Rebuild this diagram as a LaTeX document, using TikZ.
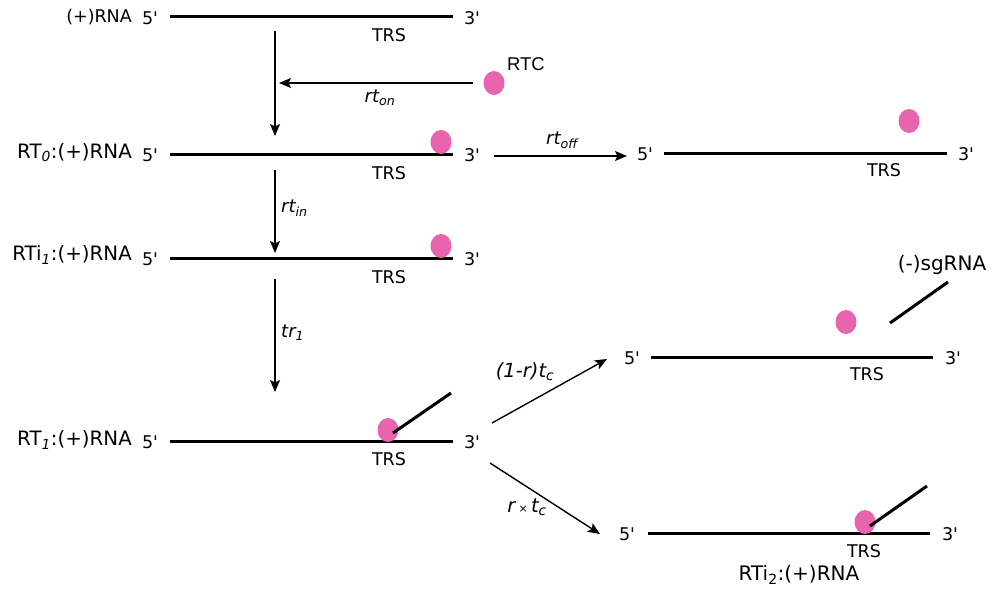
\documentclass[tikz,border=0pt]{standalone}
\usepackage{fontspec}
\setmainfont{DejaVu Sans}
\newfontfamily\rtcfont{Liberation Sans}
\usetikzlibrary{arrows.meta,shapes.geometric}
\definecolor{rtcpink}{RGB}{232,100,174}
\newcommand{\sbi}[1]{\textsubscript{\itshape #1}}
\newcommand{\pr}{\textquotesingle}
\newcommand{\fs}[1]{\fontsize{#1}{#1}\selectfont}
\begin{document}
\begin{tikzpicture}[x=1pt,y=-1pt,
  every node/.style={font=\fs{17.5}, inner sep=0pt},
  big/.style={font=\fs{19.8}},
  bigger/.style={font=\fs{20}},
  strand/.style={line width=3pt},
  react/.style={line width=1.4pt,-{Stealth[length=12pt,width=10pt,inset=2.5pt]}},
  dot/.style={ellipse, fill=rtcpink, minimum width=21pt, minimum height=24pt, inner sep=0pt},
  rate/.style={font=\fs{18}\itshape}
]
\useasboundingbox (0,0) rectangle (992,591);

% ---------- row 1 ----------
\coordinate (a1) at (170,17); \coordinate (b1) at (453,17);
\draw[strand] (a1) -- (b1);
\node[anchor=east] (n1) at (132,17) {(+)RNA};
\node (f1) at (150,18) {5\pr};
\node (t1) at (472,18) {3\pr};
\node (s1) at (389,35) {TRS};

\node[dot] (rtc) at (494,83) {};
\node[font=\rtcfont\fs{18.5}] (rtclbl) at (526,64) {RTC};
\coordinate (on1) at (473,83); \coordinate (on2) at (279,83);
\draw[react] (on1) -- (on2);
\node[rate] (lon) at (380,98) {rt\sbi{on}};

\coordinate (v1a) at (275,31); \coordinate (v1b) at (275,136);
\draw[react] (v1a) -- (v1b);

% ---------- row 2 ----------
\coordinate (a2) at (170,154); \coordinate (b2) at (453,154);
\draw[strand] (a2) -- (b2);
\node[anchor=east,big] (n2) at (132,153) {RT\sbi{0}:(+)RNA};
\node (f2) at (150,155) {5\pr};
\node (t2) at (472,155) {3\pr};
\node (s2) at (389,173) {TRS};
\node[dot] (d2) at (441,142) {};

\coordinate (off1) at (494,156); \coordinate (off2) at (627,156);
\draw[react] (off1) -- (off2);
\node[rate] (loff) at (562,140) {rt\sbi{off}};

\coordinate (a5) at (664,153); \coordinate (b5) at (947,153);
\draw[strand] (a5) -- (b5);
\node (f5) at (645,154) {5\pr};
\node (t5) at (966,154) {3\pr};
\node (s5) at (884,170) {TRS};
\node[dot] (d5) at (909,121) {};

\coordinate (v2a) at (275,170); \coordinate (v2b) at (275,253);
\draw[react] (v2a) -- (v2b);
\node[rate,anchor=west] (lin) at (281,208) {rt\sbi{in}};

% ---------- row 3 ----------
\coordinate (a3) at (170,258); \coordinate (b3) at (453,258);
\draw[strand] (a3) -- (b3);
\node[anchor=east,big] (n3) at (132,255) {RTi\sbi{1}:(+)RNA};
\node (f3) at (150,259) {5\pr};
\node (t3) at (472,259) {3\pr};
\node (s3) at (389,277) {TRS};
\node[dot] (d3) at (441,246) {};

\coordinate (v3a) at (275,279); \coordinate (v3b) at (275,392);
\draw[react] (v3a) -- (v3b);
\node[rate,anchor=west] (ltr) at (281,333) {tr\sbi{1}};

% ---------- row 4 ----------
\coordinate (a4) at (170,441); \coordinate (b4) at (453,441);
\draw[strand] (a4) -- (b4);
\node[anchor=east,big] (n4) at (132,440) {RT\sbi{1}:(+)RNA};
\node (f4) at (150,442) {5\pr};
\node (t4) at (472,442) {3\pr};
\node (s4) at (389,459) {TRS};
\node[dot] (d4) at (388,430) {};
\coordinate (g4a) at (393,433); \coordinate (g4b) at (451,393);
\draw[strand] (g4a) -- (g4b);

\coordinate (c1a) at (492,423); \coordinate (c1b) at (607,359);
\draw[react] (c1a) -- (c1b);
\node[rate,font=\fs{19.5}\itshape] (lc1) at (525,372) {(1-r)t\sbi{c}};

\coordinate (c2a) at (490,463); \coordinate (c2b) at (600,534);
\draw[react] (c2a) -- (c2b);
\node[rate,font=\fs{19.5}\itshape] (lc2) at (527,507) {r\,{\upshape\fs{11}×}\,t\sbi{c}};

% ---------- right row 6 ----------
\coordinate (a6) at (651,357); \coordinate (b6) at (933,357);
\draw[strand] (a6) -- (b6);
\node (f6) at (632,358) {5\pr};
\node (t6) at (953,358) {3\pr};
\node (s6) at (867,374) {TRS};
\node[dot] (d6) at (846,322) {};
\coordinate (g6a) at (890,323); \coordinate (g6b) at (948,282);
\draw[strand] (g6a) -- (g6b);
\node[bigger] (sg) at (942,265) {(-)sgRNA};

% ---------- right row 7 ----------
\coordinate (a7) at (648,533); \coordinate (b7) at (930,533);
\draw[strand] (a7) -- (b7);
\node (f7) at (627,534) {5\pr};
\node (t7) at (950,534) {3\pr};
\node (s7) at (864,551) {TRS};
\node[dot] (d7) at (865,522) {};
\coordinate (g7a) at (870,526); \coordinate (g7b) at (927,486);
\draw[strand] (g7a) -- (g7b);
\node[bigger] (n7) at (799,575) {RTi\textsubscript{2}:(+)RNA};
\end{tikzpicture}
\end{document}
